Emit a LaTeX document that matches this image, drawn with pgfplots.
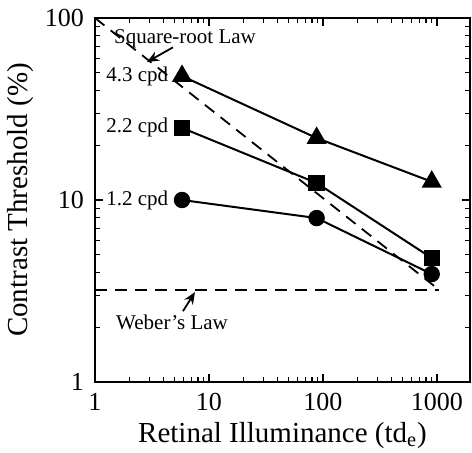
\documentclass[border=0pt]{standalone}
\usepackage{fontspec}
\setmainfont{Liberation Serif}
\usepackage{pgfplots}
\pgfplotsset{compat=1.18}
\usetikzlibrary{arrows.meta}
\begin{document}
\begin{tikzpicture}
\useasboundingbox (-47.5pt,-35pt) rectangle (188.5pt,191pt);
\begin{axis}[
  scale only axis,
  width=187.5pt, height=182pt,
  xmode=log, ymode=log,
  xmin=1, xmax=1950, ymin=1, ymax=100,
  xtick={1,10,100,1000}, ytick={1,10,100},
  xticklabels={1,10,100,1000}, yticklabels={1,10,100},
  /pgf/number format/assume math mode=true,
  ticklabel style={font=\fontsize{13}{15}\selectfont},
  xticklabel style={yshift=-2pt},
  yticklabel style={xshift=-2pt},
  tick style={black, line width=0.6pt},
  axis line style={line width=0.9pt},
  major tick length=4pt, minor tick length=2.5pt,
  xlabel={Retinal Illuminance (td$_{\mathrm{e}}$)},
  ylabel={Contrast Threshold (\%)},
  label style={font=\fontsize{14.5}{17}\selectfont},
  xlabel style={yshift=1pt},
  ylabel style={yshift=-1pt},
  clip=false,
]
% Square-root law
\addplot[black, line width=0.9pt, dash pattern=on 6pt off 4pt] coordinates {(1,100) (1050,3.2)};
% Weber's law
\addplot[black, line width=0.9pt, dash pattern=on 6pt off 4pt] coordinates {(1,3.2) (1050,3.2)};
% 4.3 cpd
\addplot[black, line width=1pt, mark=triangle*, mark size=4.8pt] coordinates {(5.8,48) (88,21.9) (900,12.6)};
% 2.2 cpd
\addplot[black, line width=1pt, mark=square*, mark size=3.6pt] coordinates {(5.8,24.9) (88,12.4) (900,4.8)};
% 1.2 cpd
\addplot[black, line width=1pt, mark=*, mark size=3.6pt] coordinates {(5.8,10) (88,7.96) (900,3.92)};
\node[anchor=east, font=\fontsize{10.5}{12}\selectfont, inner sep=1pt] at (axis cs:4.6,48) {4.3 cpd};
\node[anchor=east, font=\fontsize{10.5}{12}\selectfont, inner sep=1pt] at (axis cs:4.6,24.9) {2.2 cpd};
\node[anchor=east, font=\fontsize{10.5}{12}\selectfont, inner sep=1pt] at (axis cs:4.6,10) {1.2 cpd};
\node[font=\fontsize{10.5}{12}\selectfont, inner sep=0pt] at (axis cs:6.16,77) {Square-root Law};
\draw[-{Stealth[length=6pt,width=5pt]}, line width=0.9pt] (axis cs:4.83,69) -- (axis cs:2.86,57.3);
\node[font=\fontsize{10.5}{12}\selectfont, inner sep=0pt] at (axis cs:4.74,2.14) {Weber's Law};
\draw[-{Stealth[length=6pt,width=5pt]}, line width=0.9pt] (axis cs:5.91,2.45) -- (axis cs:7.54,3.12);
\end{axis}
\end{tikzpicture}
\end{document}
